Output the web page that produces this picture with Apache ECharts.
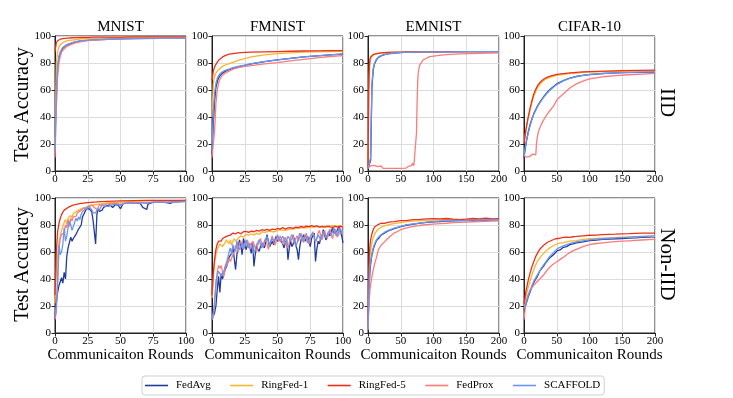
<!DOCTYPE html>
<html><head><meta charset="utf-8">
<script src="https://cdn.jsdelivr.net/npm/echarts@6/dist/echarts.min.js"></script>
<style>html,body{margin:0;padding:0;background:#fff}#c{width:733px;height:398px}</style>
</head><body><div id="c"></div>
<script>
// ---------- labels ----------
const seriesNames = ['FedAvg','RingFed-1','RingFed-5','FedProx','SCAFFOLD'];
const datasetTitles = ['MNIST','FMNIST','EMNIST','CIFAR-10'];
const rowLabels = ['IID','Non-IID'];
const xMaxes = [100,100,200,200];
const xIntervals = [25,25,50,50];
const yLabel = 'Test Accuracy';
const xLabel = 'Communicaiton Rounds';

// ---------- MNIST IID ----------
const mnistIidRounds = [0,1,2,3,4,5,6,8,10,13,16,20,25,30,40,50,60,70,80,90,100];
const mnistIidFedAvg = [25,55,75,84,87.5,89.5,91,92.8,93.8,94.8,95.6,96.3,96.8,97.2,97.6,97.9,98.1,98.2,98.3,98.4,98.5];
const mnistIidRing1 = [20,80,88,92,93.5,94.5,95.2,96,96.5,97,97.4,97.8,98.1,98.3,98.6,98.8,99,99,99.1,99.2,99.2];
const mnistIidRing5 = [88,95,96.5,97.2,97.6,97.9,98.1,98.3,98.5,98.7,98.8,98.9,99.0,99.1,99.2,99.2,99.3,99.3,99.4,99.4,99.4];
const mnistIidFedProx = [10,45,70,80,85,88,89.5,91.5,92.7,94,95,95.8,96.5,97,97.5,97.8,98,98.1,98.2,98.3,98.3];
const mnistIidScaffold = [15,60,78,85,88,90,91.5,93,94,95,95.8,96.5,97,97.3,97.7,98,98.2,98.3,98.4,98.5,98.5];

// ---------- FMNIST IID ----------
const fmIidRounds = [0,1,2,3,4,5,6,8,10,13,16,20,25,30,40,50,60,70,80,90,100];
const fmIidFedAvg = [12,35,52,62,66,69,70.5,72.5,73.8,75,76,77,78.2,79.3,81,82.3,83.5,84.5,85.3,86,86.6];
const fmIidRing1 = [40,65,70,72.5,74,75,76,77.5,78.5,79.5,80.5,82,83.3,84.5,86,87,87.5,88,88.3,88.5,88.7];
const fmIidRing5 = [67,74,77,79,80.5,82,83,84.5,85.5,86.5,87,87.5,87.8,88,88.3,88.5,88.7,88.9,89,89.1,89.2];
const fmIidFedProx = [10,10,30,50,60,65,68,71,72.5,74,75.5,76.5,77.5,78,79.3,80.3,81.5,82.7,83.8,84.8,85.5];
const fmIidScaffold = [15,45,58,65,68.5,70.5,72,73.5,74.5,75.5,76.5,77.5,78.5,79.5,81,82.3,83.5,84.5,85.3,86,86.8];

// ---------- EMNIST IID ----------
const emIidRounds = [0,1,2,3,4,5,6,8,10,13,16,20,25,30,40,50,60,70,80,90,100,125,150,175,200];
const emIidFedAvg = [2,2,2.5,3,8,35,62,75,79.5,82.5,84.2,85.3,86.2,86.7,87.3,87.7,88,88.1,88.2,88.2,88.3,88.3,88.4,88.4,88.4];
const emIidRing1 = [2,45,70,80,83,84.5,85.2,85.9,86.4,86.8,87.1,87.4,87.6,87.7,87.9,88,88.1,88.2,88.2,88.3,88.3,88.4,88.4,88.4,88.4];
const emIidRing5 = [2,60,78,83,84.5,85.3,85.8,86.3,86.7,87,87.3,87.5,87.7,87.8,88,88.1,88.2,88.2,88.3,88.3,88.3,88.4,88.4,88.4,88.4];
const emIidScaffold = [2,2,2.5,3,10,40,65,76,80,83,84.5,85.5,86.3,86.8,87.4,87.8,88,88.1,88.2,88.2,88.3,88.3,88.4,88.4,88.4];
const emIidProxRounds = [0,3,5,8,10,13,15,18,20,23,30,40,50,58,62,64,66,68,70,72,73,74,75,76,77,79,84,94,115,140,170,200];
const emIidFedProx = [2,2.5,4,4,4.2,4.4,3.2,2,3.7,2,2,2,2,2.2,3.5,4.4,4,5.7,4,3.7,3.7,28,52,68,74,78.5,82.2,84.7,86,86.7,87.2,87.6];

// ---------- CIFAR-10 IID ----------
const cfIidRounds = [0,3,6,9,12,15,18,21,25,30,35,40,50,60,70,80,90,100,125,150,175,200];
const cfIidFedAvg = [10,20,28,34,38.5,42.5,45.5,48.5,51.5,55,58,60.5,64.5,67,68.8,70,70.8,71.4,72.3,72.8,73.1,73.3];
const cfIidRing1 = [21,30,38,44.5,50.5,55.5,59,62,64.8,67,68.5,69.5,70.8,71.6,72.2,72.6,73,73.2,73.6,73.9,74.1,74.2];
const cfIidRing5 = [20,31,39,46,52,57,60.5,63.5,66,68,69.3,70.3,71.5,72.2,72.7,73.1,73.4,73.6,74,74.3,74.5,74.7];
const cfIidScaffold = [12,21,27,33,38,42,45,48,51,54.5,57.5,60,64,66.8,68.7,70,70.9,71.5,72.4,72.9,73.2,73.5];
const cfIidProxRounds = [0,2,5,8,11,13,16,18,19,20,22,25,28,32,36,40,45,50,55,60,70,80,90,100,120,140,160,180,200];
const cfIidFedProx = [12,10.5,10.5,10.5,10.5,12.5,12.5,12,20,24,29,33,36,39.5,42.5,45,48,52.5,55,57,61.5,64.5,66.5,68.2,69.8,70.7,71.3,71.8,72.3];

// ---------- MNIST Non-IID ----------
const mnNonAvgRounds = [0,1,2,3,4,5,6,7,8,9,10,11,12,13,14,15,16,17,18,19,20,21,22,23,24,25,26,27,28,29,30,31,32,33,34,35,36,37,38,39,40,42,44,46,48,50,52,55,58,62,65,67,68,70,71,74,78,82,85,88,90,93,96,100];
const mnNonFedAvg = [10,22,30,35,38,41,37,45,40,57,63,62,71,68,70,70,73,74,77,76,80,86,88,90,92,93,92,91,90,84,75,66,88,92,90,89,91,93,92,94,93,95,93,95,95,92,96,96,96.5,96,96,93,94,91.5,95.5,96.5,97,97,96.5,96,97,97.2,97.3,97.5];
const mnNonRing1Rounds = [0,1,2,3,4,5,6,7,8,9,10,11,12,13,14,15,17,20,23,26,30,35,40,50,60,70,80,90,100];
const mnNonRing1 = [22,45,58,66,72,76,79,82,84,80.5,85,86,87,85.5,88.5,89.5,90.5,92,93,94,95,95.7,96.3,97,97.5,97.8,98,98.1,98.3];
const mnNonRing5Rounds = [0,1,2,3,4,5,6,7,8,10,12,14,17,20,25,30,35,40,50,60,70,80,90,100];
const mnNonRing5 = [28,60,75,81,85,87.7,89.5,91,92,93,94,94.8,95.5,96,96.5,97,97.3,97.5,97.8,98,98.2,98.3,98.3,98.3];
const mnNonProxRounds = [0,1,2,3,4,5,6,7,8,9,10,11,12,13,14,15,16,17,18,20,22,24,26,28,30,32,34,37,40,45,50,55,60,65,70,75,80,85,90,95,100];
const mnNonFedProx = [10,15,40,62,70,73,72,74,80,78,84,79,85,83,86,87,86.4,89,88,91,92.6,92,94,95,93,91.4,95,94.5,95.6,96,95.5,96.3,96.5,96.3,96.8,97,97,97.2,97,97.3,97.5];
const mnNonScafRounds = [0,1,2,3,4,5,6,7,8,9,10,11,12,13,14,15,16,17,18,19,20,21,22,24,26,27,28,29,30,31,32,34,36,38,41,44,47,50,53,56,60,65,70,75,80,85,90,95,100];
const mnNonScaffold = [12,21,36,65,58,60,66,78,68,72,78,83,80,76,75,82,85,83,86,84,88,90,91,92.5,93.8,93,91.4,89,87.7,89,91,91.4,95,94,93.8,95,95.6,94.5,96,96.3,96,96.5,96,97,97,96.8,97.3,97.2,97.5];

// ---------- FMNIST Non-IID ----------
const fmNonRounds = [0,1,2,3,4,5,6,7,8,9,10,11,12,13,14,15,16,17,18,20,22,24,26,28,30,32,34,36,38,40,42,44,46,48,50,52,54,56,58,60,62,64,66,68,70,72,74,76,78,80,82,84,86,88,90,92,94,96,98,100];
const fmNonRing1 = [26,40,52,58,62,64,66,67,64,63,67,69,68,66,69,65,68,70,68,70,72,71,73,72.5,73.5,72.5,74,73,75,74.5,75,75.5,75,75,76,76.5,76,76,76.5,77,77,77.5,77.5,78,77.8,77.8,78.3,78.5,78.5,79,78.8,78.5,79,79,79.3,79.5,79.3,79,79.5,79.3];
const fmNonRing5 = [28,45,55,62,66,68,69,68,70,70.5,71,70.5,72,71.5,72.5,72,74,73,73.5,74.5,73.5,75,75.3,74.5,75.5,75,76,75.5,76.5,76,76.8,76,77,76.5,77.5,77,78,77,77.8,78,77.5,78.5,78,79,78.3,79.2,78.8,79.5,78.8,79.3,78.5,79,78.5,79,78.7,78,79,78.5,79.2,78.3];
const fmNonFullRounds = [0,1,2,3,4,5,6,7,8,9,10,11,12,13,14,15,16,17,18,19,20,21,22,23,24,25,26,27,28,29,30,31,32,33,34,35,36,37,38,39,40,41,42,43,44,45,46,47,48,49,50,51,52,53,54,55,56,57,58,59,60,61,62,63,64,65,66,67,68,69,70,71,72,73,74,75,76,77,78,79,80,81,82,83,84,85,86,87,88,89,90,91,92,93,94,95,96,97,98,99,100];
const fmNonFedAvg = [10,10,15,20,32,42,30,44,40,39.5,47,49,52,56,57,59,64,55,47,58,64,69,65,58,70,66,61.7,65,66.7,63,59,68,49.4,58,64,62,60.5,64,66.7,65,63,67,72.8,68,64,66,68,65.4,69,71.6,68,66.7,69,70.4,66,63,67,69,54.3,63,68,64,66,70.4,65,61.7,54.3,64,69,71,72.8,68,66.7,71.6,68,64,70,72,74,53,62,68,66,70.4,72,76.5,72,69,71,74,72,75,77.8,74,72.8,75,77,79,75.3,72,66.7];
const fmNonScaffold = [10,11,21,38,43,45.7,44,42,44,45.7,49.4,52,55.6,60,63,58,65.4,62,60.5,68,64,61.7,64,66.7,62,64,69,66,63,65,66.7,62,59,62,65.4,67,69,66,63,65,68,70,71.6,68,65.4,68,70.4,68,66.7,70,72.8,70,68,70,71.6,69,65.4,69,71.6,70,68,70,72.8,68,64,67,70.4,74,71,68,70,72.8,70,66.7,69,71.6,73,74,71,68,70,72.8,71,69,72,75.3,73,70.4,73,75.3,74,72.8,75,77.8,74,71.6,74,77.8,72.8,75,77.8];
const fmNonFedProx = [10,12,25,35,45,50,48,50,45,42,48,50,52,55,53,52,58,60,65,63,60,66,68,64,62,67,65,69,66,62,64,68,66,63,60,65,68,70,66,64,67,70,66,62,66,69,72,68,65,68,71,68,72,70,66,69,71,66,63,67,71,73,69,66,70,72,68,71,74,70,67,71,74,69,66,70,73,75,71,67,70,74,76,72,69,73,76,72,70,74,77,73,70,74,77,74,71,75,78,74,73];

// ---------- EMNIST Non-IID ----------
const emNonRounds = [0,1,2,3,4,6,8,10,13,16,20,25,30,35,40,50,60,70,80,90,100,110,120,130,140,150,160,170,180,190,200];
const emNonFedAvg = [3,22,37,46,51,58,62,65,68.5,70,72.5,74,75.5,76.3,77.3,78.8,80,80.7,81.4,82,82.3,82.6,82.9,83,83.3,83.3,83.5,83.6,83.6,83.8,83.8];
const emNonRing1 = [3,30,48,56,61,67,70.5,73,75.5,77,78.3,79.3,80,80.6,81,81.8,82.5,82.8,83.2,83.5,83.6,83.8,83.9,84,84,84.1,84.1,84.2,84.2,84.3,84.3];
const emNonRing5 = [3,40,58,65,69,73.5,76.5,78.5,79.8,80.5,81.3,81.2,82,82.3,82.5,83.2,83.5,84,84.2,84.5,84.7,84.5,84.8,84.3,84,84.3,84.8,84.5,85,84.6,84.7];
const emNonFedProx = [2,15,25,32,36,42,47,51,56,62,65,67.5,70,72,74,76.5,78,79,79.8,80.3,80.7,81,81.3,81.7,82,82.2,82.4,82.6,82.7,82.9,83];
const emNonScaffold = [3,25,40,48,53,59,63,66,69,71,72.8,74.5,75.8,76.8,77.6,79,80.2,80.9,81.6,82.1,82.5,82.8,83,83.2,83.3,83.5,83.6,83.7,83.8,83.9,84];

// ---------- CIFAR-10 Non-IID ----------
const cfNonRounds = [0,3,6,9,12,15,18,21,24,27,30,33,36,39,42,45,48,51,55,60,65,70,75,80,90,100,110,120,130,140,150,160,170,180,190,200];
const cfNonFedAvg = [17,21,26,30,34,37.5,40,42.5,46,47,49.5,52,51.5,55.5,56,58,57.5,61,61.5,63.5,64,65.5,66,66.8,67.5,68.5,68.8,69.3,69.5,69.8,70,70.3,70.5,70.8,71,71.2];
const cfNonRing1 = [20,27,33,38,43,47,50.5,53.5,55.5,57.5,59,60.5,61.5,63,64,64.8,65.5,66,66.5,67,67.5,68,68.3,68.5,69.3,69.8,70,70.3,70.5,70.8,71,71,71.2,71.4,71.5,71.6];
const cfNonRing5 = [21,31,38,44,49,53,56.8,59.5,62,63.5,65,66,67.2,67.8,68.5,69.2,69.8,70.4,70.2,70.8,71,70.8,71.3,71.5,72,72.4,72.5,72.8,73,73.2,73.5,73.6,73.8,74,74,74];
const cfNonFedProx = [10,23,28,31.5,33.5,35.5,37,38.5,40,41.5,43,45,47,48.5,50,51,52,53,54.5,56,58,59.5,61,62,64,65.5,66.3,66.8,67.3,67.7,68,68.3,68.6,68.9,69.2,69.4];
const cfNonScaffold = [18,22,27,31,35,38.5,41,43.5,46,48.5,50.5,52.5,54.5,56.5,58,59.5,61,62.5,63.5,64.5,65.5,66.3,67,67.5,68.3,69,69.5,69.8,70.2,70.4,70.7,71,71.3,71.6,71.8,72];

// ---------- build ----------
function pts(r, v){ const n=Math.min(r.length,v.length); const out=[]; for(let i=0;i<n;i++) out.push([r[i],v[i]]); return out; }

const panelLines = [
  [[mnistIidRounds,mnistIidFedAvg],[mnistIidRounds,mnistIidRing1],[mnistIidRounds,mnistIidRing5],[mnistIidRounds,mnistIidFedProx],[mnistIidRounds,mnistIidScaffold]],
  [[fmIidRounds,fmIidFedAvg],[fmIidRounds,fmIidRing1],[fmIidRounds,fmIidRing5],[fmIidRounds,fmIidFedProx],[fmIidRounds,fmIidScaffold]],
  [[emIidRounds,emIidFedAvg],[emIidRounds,emIidRing1],[emIidRounds,emIidRing5],[emIidProxRounds,emIidFedProx],[emIidRounds,emIidScaffold]],
  [[cfIidRounds,cfIidFedAvg],[cfIidRounds,cfIidRing1],[cfIidRounds,cfIidRing5],[cfIidProxRounds,cfIidFedProx],[cfIidRounds,cfIidScaffold]],
  [[mnNonAvgRounds,mnNonFedAvg],[mnNonRing1Rounds,mnNonRing1],[mnNonRing5Rounds,mnNonRing5],[mnNonProxRounds,mnNonFedProx],[mnNonScafRounds,mnNonScaffold]],
  [[fmNonFullRounds,fmNonFedAvg],[fmNonRounds,fmNonRing1],[fmNonRounds,fmNonRing5],[fmNonFullRounds,fmNonFedProx],[fmNonFullRounds,fmNonScaffold]],
  [[emNonRounds,emNonFedAvg],[emNonRounds,emNonRing1],[emNonRounds,emNonRing5],[emNonRounds,emNonFedProx],[emNonRounds,emNonScaffold]],
  [[cfNonRounds,cfNonFedAvg],[cfNonRounds,cfNonRing1],[cfNonRounds,cfNonRing5],[cfNonRounds,cfNonFedProx],[cfNonRounds,cfNonScaffold]]
];

const colors = ['#203c9c','#fdb52e','#e8321c','#ff7a7a','#6a96f0'];
const FONT = '"Liberation Serif","Times New Roman",serif';
const colLeft = [55,212,368,524];
const rowTop = [36,198];
const PW = 131, PH = 135;

const grids=[], xAxes=[], yAxes=[], series=[];
for (let p=0;p<8;p++){
  const row=Math.floor(p/4), col=p%4;
  grids.push({left:colLeft[col], top:rowTop[row], width:PW, height:PH, show:true, borderColor:'#222', borderWidth:1, backgroundColor:'transparent', containLabel:false});
  xAxes.push({gridIndex:p, type:'value', min:0, max:xMaxes[col], interval:xIntervals[col],
    axisLine:{show:true,onZero:false,lineStyle:{color:'#222',width:1}},
    axisTick:{show:true,length:3.5,lineStyle:{color:'#222'}},
    axisLabel:{fontFamily:FONT,fontSize:11,color:'#000',margin:3},
    splitLine:{show:true,lineStyle:{color:'#dcdcdc',width:1}}});
  yAxes.push({gridIndex:p, type:'value', min:0, max:100, interval:20,
    axisLine:{show:true,onZero:false,lineStyle:{color:'#222',width:1}},
    axisTick:{show:true,length:3.5,lineStyle:{color:'#222'}},
    axisLabel:{fontFamily:FONT,fontSize:11,color:'#000',margin:4},
    splitLine:{show:true,lineStyle:{color:'#dcdcdc',width:1}}});
  panelLines[p].forEach((ln,k)=>{
    series.push({type:'line', name:seriesNames[k], xAxisIndex:p, yAxisIndex:p,
      data:pts(ln[0],ln[1]), symbol:'none', showSymbol:false, smooth:false,
      lineStyle:{color:colors[k], width:1.3}, itemStyle:{color:colors[k]},
      emphasis:{disabled:true}, silent:true, clip:true});
  });
}

const graphics=[];
for (let c=0;c<4;c++){
  graphics.push({type:'text', x:colLeft[c]+PW/2, y:27.5, style:{text:datasetTitles[c], font:'15px '+FONT, fill:'#000', align:'center', verticalAlign:'middle'}});
  graphics.push({type:'text', x:colLeft[c]+PW/2, y:355, style:{text:xLabel, font:'15px '+FONT, fill:'#000', align:'center', verticalAlign:'middle'}});
}
for (let r=0;r<2;r++){
  graphics.push({type:'text', x:23, y:rowTop[r]+PH/2+(r?-1:1), rotation:Math.PI/2, style:{text:yLabel, font:'20px '+FONT, fill:'#000', align:'center', verticalAlign:'middle'}});
  graphics.push({type:'text', x:667, y:rowTop[r]+PH/2-1, rotation:-Math.PI/2, style:{text:rowLabels[r], font:'21px '+FONT, fill:'#000', align:'center', verticalAlign:'middle'}});
}

const chart = echarts.init(document.getElementById('c'), null, {renderer:'canvas'});
chart.setOption({
  animation:false,
  backgroundColor:'#fff',
  grid:grids, xAxis:xAxes, yAxis:yAxes, series:series,
  legend:{data:seriesNames.map(n=>({name:n, icon:'rect'})), left:142, top:376, orient:'horizontal', itemWidth:23, itemHeight:1.6, itemGap:19.5,
    padding:[4,4,4,3], borderColor:'#cfcfcf', borderWidth:1, borderRadius:3, backgroundColor:'#fff',
    itemStyle:{borderWidth:0},
    textStyle:{fontFamily:FONT, fontSize:11, color:'#000', padding:[0,0,0,3], lineHeight:11}},
  graphic:graphics
});
</script></body></html>
